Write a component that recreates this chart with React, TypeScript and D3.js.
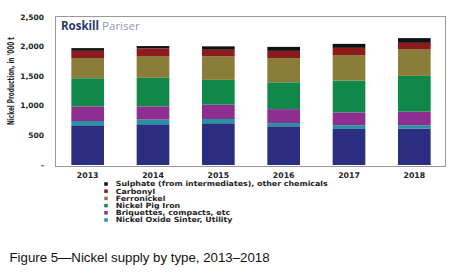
import React from 'react';
import * as d3 from 'd3';

const years = ['2013', '2014', '2015', '2016', '2017', '2018'];
const refined = [671, 688, 705, 654, 609, 616];
const oxideSinter = [72, 79, 72, 55, 62, 55];
const briquettes = [247, 223, 242, 235, 218, 230];
const npi = [475, 482, 419, 453, 537, 604];
const ferronickel = [342, 369, 398, 409, 431, 453];
const carbonyl = [122, 128, 111, 122, 122, 106];
const sulphate = [45, 40, 57, 67, 67, 79];

const seriesNames = [
  'Refined',
  'Nickel Oxide Sinter, Utility',
  'Briquettes, compacts, etc',
  'Nickel Pig Iron',
  'Ferronickel',
  'Carbonyl',
  'Sulphate (from intermediates), other chemicals',
];
const seriesValues = [refined, oxideSinter, briquettes, npi, ferronickel, carbonyl, sulphate];
const colors = ['#2b2e80', '#2394a0', '#8e2e90', '#10884a', '#8a7d3a', '#8e1b1c', '#111111'];
const legendOrder = [6, 5, 4, 3, 2, 1];
const yTicks = [0, 500, 1000, 1500, 2000, 2500];

export default function App() {
  const x = d3.scaleBand<string>().domain(years).range([55, 447]).paddingInner(0.5).paddingOuter(0.25);
  const y = d3.scaleLinear().domain([0, 2500]).range([165, 17]);
  const table = years.map((yr, i) => {
    const row: any = { year: yr };
    seriesNames.forEach((n, s) => (row[n] = seriesValues[s][i]));
    return row;
  });
  const stacked = d3.stack<any>().keys(seriesNames)(table);
  const fmt = (v: number) => (v === 0 ? '-' : d3.format(',')(v));
  const bold = "'DejaVu Sans', sans-serif";

  return (
    <svg width={454} height={276} style={{ position: 'absolute', left: 0, top: 0, background: '#fff' }}>
      <rect x={0} y={0} width={454} height={276} fill="#fff" />
      <rect x={55.5} y={16.5} width={390} height={150} fill="none" stroke="#9a9a9a" strokeWidth={1} />
      <text x={61} y={30} fontFamily="'Open Sans', sans-serif" fontWeight={700} fontSize={11.5} fill="#2a3868">
        Roskill
        <tspan dx={3} fontWeight={400} fill="#8c98b8">Pariser</tspan>
      </text>
      {stacked.map((layer, s) => (
        <g key={s} fill={colors[s]}>
          {layer.map((d, i) => (
            <rect key={i} x={x(years[i])} width={x.bandwidth()} y={y(d[1])} height={y(d[0]) - y(d[1])} />
          ))}
        </g>
      ))}
      {yTicks.map((t) => (
        <text key={t} x={44} y={y(t)} dy="0.35em" textAnchor="end" fontFamily={bold} fontWeight={700} fontSize={7.5} fill="#222">
          {fmt(t)}
        </text>
      ))}
      <text
        transform="translate(11,81) rotate(-90)"
        textAnchor="middle"
        dy="0.35em"
        fontFamily={bold}
        fontWeight={700}
        fontSize={8}
        textLength={88}
        lengthAdjust="spacingAndGlyphs"
        fill="#222"
      >
        Nickel Production, in '000 t
      </text>
      {years.map((yr) => (
        <text key={yr} x={(x(yr) as number) + x.bandwidth() / 2} y={175} dy="0.35em" textAnchor="middle" fontFamily={bold} fontWeight={700} fontSize={7.8} fill="#222">
          {yr}
        </text>
      ))}
      {legendOrder.map((s, k) => (
        <g key={s} transform={`translate(106,${184 + k * 7.2})`}>
          <rect x={-1.75} y={-1.75} width={3.5} height={3.5} fill={colors[s]} />
          <g transform="translate(9.7,0) scale(1.11,1)">
            <text x={0} y={0} dy="0.35em" fontFamily={bold} fontWeight={700} fontSize={7.1} fill="#222">
              {seriesNames[s]}
            </text>
          </g>
        </g>
      ))}
      <text x={9.5} y={261.5} fontFamily="'Liberation Sans', Arial, sans-serif" fontSize={13} textLength={260} lengthAdjust="spacingAndGlyphs" fill="#111">
        Figure 5—Nickel supply by type, 2013–2018
      </text>
    </svg>
  );
}
